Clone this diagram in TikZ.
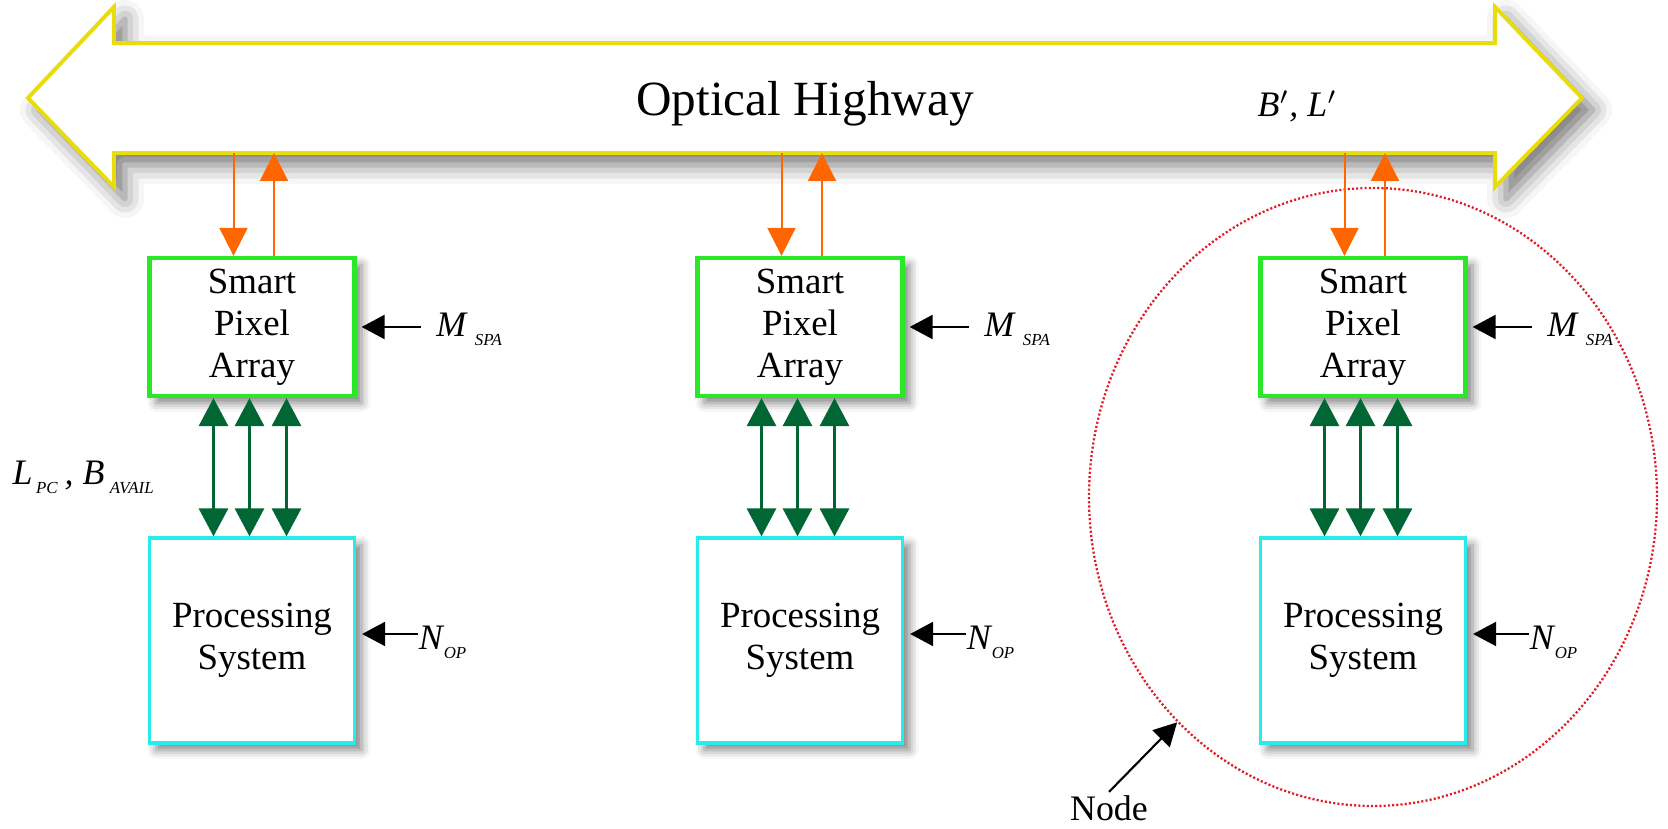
\documentclass[tikz,border=0pt]{standalone}
\usepackage{fontspec}
\setmainfont{Liberation Serif}
\usepackage{xcolor}
\usepackage{tikz}
\usetikzlibrary{shapes,calc,positioning}
\usetikzlibrary{arrows.meta,shadows.blur}

\definecolor{hwyyellow}{RGB}{232,220,10}
\definecolor{optorange}{RGB}{255,102,0}
\definecolor{spagreen}{RGB}{40,232,40}
\definecolor{pscyan}{RGB}{40,235,235}
\definecolor{lnkgreen}{RGB}{0,102,51}
\definecolor{nodered}{RGB}{225,30,40}

\newcommand{\lsub}[2][0pt]{\kern#1\raisebox{-2.3pt}{\fontsize{4.8}{5}\selectfont\itshape #2}}

\begin{document}
\begin{tikzpicture}[
    hwy/.style={draw=hwyyellow, line width=1.1pt, fill=white,
      blur shadow={shadow xshift=1.1mm, shadow yshift=-1.2mm, shadow blur radius=1.9mm, shadow opacity=55}},
    spabox/.style={draw=spagreen, line width=1.2pt, fill=white, align=center, inner sep=0pt,
      minimum width=2.05cm, minimum height=1.38cm, font=\fontsize{10.5}{11.9}\selectfont,
      blur shadow={shadow xshift=0.7mm, shadow yshift=-0.7mm, shadow blur radius=0.9mm, shadow opacity=50}},
    psbox/.style={spabox, draw=pscyan, line width=0.9pt, minimum height=2.05cm},
    optarr/.style={color=optorange, line width=0.57pt, -{Triangle[width=2.8mm,length=2.8mm]}},
    lnkarr/.style={color=lnkgreen, line width=0.85pt,
      {Triangle[width=2.9mm,length=2.8mm]}-{Triangle[width=2.9mm,length=2.8mm]}},
    blkarr/.style={draw=black, line width=0.6pt, -{Triangle[width=2.4mm,length=2.3mm,fill=black]}},
    lbl/.style={inner sep=0pt, anchor=base west, font=\fontsize{10.2}{12}\selectfont\itshape},
    nodedot/.style={line width=0.65pt, dash pattern=on 0.6pt off 0.6pt}
  ]
  \useasboundingbox (0,0) rectangle (16.68,8.29);

  % optical highway
  \coordinate (lt) at (0.28,7.31);
  \coordinate (rt) at (15.82,7.31);
  \coordinate (hb) at (0,6.76);
  \draw[hwy] (lt) -- (1.14,8.22) -- (1.14,7.86) -- (14.95,7.86) -- (14.95,8.22) -- (rt)
    -- (14.95,6.42) -- (14.95,6.76) -- (1.14,6.76) -- (1.14,6.42) -- cycle;
  \node[font=\fontsize{14}{16}\selectfont] (hwylbl) at (8.05,7.25) {Optical Highway};
  \node[lbl] (bl) at (12.57,7.12) {B$'$, L$'$};

  % node ring
  \node[ellipse, draw=nodered, nodedot, minimum width=5.68cm, minimum height=6.18cm] (ring) at (13.73,3.32) {};
  \node[anchor=base, inner sep=1pt, font=\fontsize{10.2}{12}\selectfont] (nodelbl) at (11.09,0.08) {Node};
  \draw[blkarr] (nodelbl.north) -- (ring.229);

  % first column
  \node[spabox] (spa1) at (2.52,5.02) {Smart\\Pixel\\Array};
  \node[psbox] (ps1) at (2.52,1.885) {Processing\\System};
  \draw[optarr] ([xshift=-1.85mm]spa1.north |- hb) -- ([xshift=-1.85mm]spa1.north);
  \draw[optarr] ([xshift=2.2mm]spa1.north) -- ([xshift=2.2mm]spa1.north |- hb);
  \draw[lnkarr] ([xshift=-3.85mm]spa1.south) -- ([xshift=-3.85mm]ps1.north);
  \draw[lnkarr] ([xshift=-0.25mm]spa1.south) -- ([xshift=-0.25mm]ps1.north);
  \draw[lnkarr] ([xshift=3.45mm]spa1.south) -- ([xshift=3.45mm]ps1.north);
  \node[lbl] (m1) at ([xshift=7.9mm,yshift=-1mm]spa1.east) {M\lsub[2.5pt]{SPA}};
  \draw[blkarr] ([xshift=-1.5mm]m1.west |- spa1.east) -- ([xshift=0.5mm]spa1.east);
  \node[lbl] (n1) at ([xshift=6.2mm,yshift=-0.95mm]ps1.east) {N\lsub[0.3pt]{OP}};
  \draw[blkarr] ([yshift=0.65mm]ps1.east -| n1.west) -- ([xshift=0.6mm,yshift=0.65mm]ps1.east);
  \node[lbl] (lb) at (0.12,3.44) {L\lsub[1pt]{PC}\hspace{2pt}, B\lsub[1.5pt]{AVAIL}};

  % second column
  \node[spabox] (spa2) at (8.00,5.02) {Smart\\Pixel\\Array};
  \node[psbox] (ps2) at (8.00,1.885) {Processing\\System};
  \draw[optarr] ([xshift=-1.85mm]spa2.north |- hb) -- ([xshift=-1.85mm]spa2.north);
  \draw[optarr] ([xshift=2.2mm]spa2.north) -- ([xshift=2.2mm]spa2.north |- hb);
  \draw[lnkarr] ([xshift=-3.85mm]spa2.south) -- ([xshift=-3.85mm]ps2.north);
  \draw[lnkarr] ([xshift=-0.25mm]spa2.south) -- ([xshift=-0.25mm]ps2.north);
  \draw[lnkarr] ([xshift=3.45mm]spa2.south) -- ([xshift=3.45mm]ps2.north);
  \node[lbl] (m2) at ([xshift=7.9mm,yshift=-1mm]spa2.east) {M\lsub[2.5pt]{SPA}};
  \draw[blkarr] ([xshift=-1.5mm]m2.west |- spa2.east) -- ([xshift=0.5mm]spa2.east);
  \node[lbl] (n2) at ([xshift=6.2mm,yshift=-0.95mm]ps2.east) {N\lsub[0.3pt]{OP}};
  \draw[blkarr] ([yshift=0.65mm]ps2.east -| n2.west) -- ([xshift=0.6mm,yshift=0.65mm]ps2.east);

  % third column
  \node[spabox] (spa3) at (13.63,5.02) {Smart\\Pixel\\Array};
  \node[psbox] (ps3) at (13.63,1.885) {Processing\\System};
  \draw[optarr] ([xshift=-1.85mm]spa3.north |- hb) -- ([xshift=-1.85mm]spa3.north);
  \draw[optarr] ([xshift=2.2mm]spa3.north) -- ([xshift=2.2mm]spa3.north |- hb);
  \draw[lnkarr] ([xshift=-3.85mm]spa3.south) -- ([xshift=-3.85mm]ps3.north);
  \draw[lnkarr] ([xshift=-0.25mm]spa3.south) -- ([xshift=-0.25mm]ps3.north);
  \draw[lnkarr] ([xshift=3.45mm]spa3.south) -- ([xshift=3.45mm]ps3.north);
  \node[lbl] (m3) at ([xshift=7.9mm,yshift=-1mm]spa3.east) {M\lsub[2.5pt]{SPA}};
  \draw[blkarr] ([xshift=-1.5mm]m3.west |- spa3.east) -- ([xshift=0.5mm]spa3.east);
  \node[lbl] (n3) at ([xshift=6.2mm,yshift=-0.95mm]ps3.east) {N\lsub[0.3pt]{OP}};
  \draw[blkarr] ([yshift=0.65mm]ps3.east -| n3.west) -- ([xshift=0.6mm,yshift=0.65mm]ps3.east);
\end{tikzpicture}
\end{document}
